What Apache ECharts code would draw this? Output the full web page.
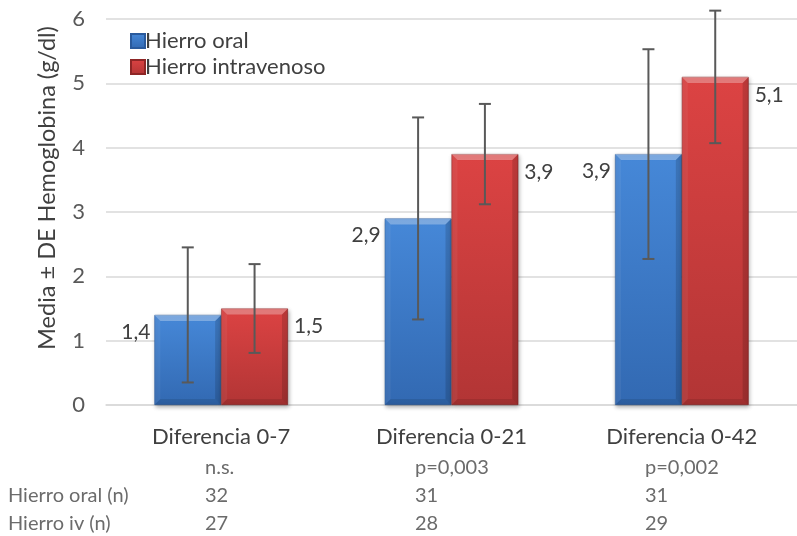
<!DOCTYPE html>
<html>
<head>
<meta charset="utf-8">
<script src="https://cdn.jsdelivr.net/npm/echarts@6/dist/echarts.min.js"></script>
<style>
html, body { margin: 0; padding: 0; background: #fff; }
#chart { width: 797px; height: 536px; }
</style>
</head>
<body>
<div id="chart"></div>
<script>
// Hemoglobin change (mean ± SD, g/dl) by iron route and follow-up interval
const categories = ['Diferencia 0-7', 'Diferencia 0-21', 'Diferencia 0-42'];
const seriesNames = ['Hierro oral', 'Hierro intravenoso'];
const oralMean = [1.4, 2.9, 3.9];
const oralSD = [1.05, 1.57, 1.63];
const ivMean = [1.5, 3.9, 5.1];
const ivSD = [0.69, 0.78, 1.03];
const pValues = ['n.s.', 'p=0,003', 'p=0,002'];
const rowLabels = ['Hierro oral (n)', 'Hierro iv (n)'];
const nOral = [32, 31, 31];
const nIv = [27, 28, 29];
const yTicks = [0, 1, 2, 3, 4, 5, 6];

const FONT = 'Lato, "Open Sans", "Noto Sans", sans-serif';
const BAR_FRAC = 0.29; // each bar's share of the category band

const fmt = v => v.toFixed(1).replace('.', ',');

function gradient(top, bottom) {
  return new echarts.graphic.LinearGradient(0, 0, 0, 1, [
    { offset: 0, color: top },
    { offset: 1, color: bottom }
  ]);
}

const palette = [
  { top: '#4688d8', bottom: '#3269b2', edge: '#2a5a9c' },
  { top: '#dc4343', bottom: '#b23535', edge: '#8e2626' }
];

function barSeries(idx, values) {
  const left = idx === 0;
  return {
    name: seriesNames[idx],
    type: 'bar',
    data: values,
    barWidth: (BAR_FRAC * 100) + '%',
    barGap: '0%',
    itemStyle: {
      color: gradient(palette[idx].top, palette[idx].bottom),
      borderColor: palette[idx].edge,
      borderWidth: 0.6,
      shadowBlur: 4,
      shadowOffsetX: 1,
      shadowOffsetY: 2,
      shadowColor: 'rgba(0,0,0,0.3)'
    },
    label: {
      show: true,
      position: left ? [-4, 17] : ['100%', 18],
      offset: left ? [0, 0] : [6, 0],
      align: left ? 'right' : 'left',
      verticalAlign: 'middle',
      formatter: p => fmt(p.value),
      fontFamily: FONT,
      fontSize: 21,
      color: '#404040'
    },
    z: 2
  };
}

// Bevel highlights plus the ±SD whiskers, laid out on the same band as the bars
function overlaySeries(idx, means, sds) {
  return {
    type: 'custom',
    data: means.map((m, i) => [i, m, sds[i]]),
    z: 4,
    silent: true,
    renderItem(params, api) {
      const c = api.value(0), m = api.value(1), s = api.value(2);
      const band = api.size([1, 0])[0];
      const w = band * BAR_FRAC;
      const base = api.coord([c, 0]);
      const x0 = idx === 0 ? base[0] - w : base[0];
      const x1 = x0 + w;
      const yT = api.coord([c, m])[1];
      const yB = base[1];
      const b = 6;
      const xm = (x0 + x1) / 2;
      const hi = api.coord([c, m + s])[1];
      const lo = api.coord([c, m - s])[1];
      const cap = 6;
      const ink = '#595959';
      return {
        type: 'group',
        children: [
          { type: 'polygon', shape: { points: [[x0, yT], [x1, yT], [x1 - b, yT + b], [x0 + b, yT + b]] },
            style: { fill: 'rgba(255,255,255,0.3)' } },
          { type: 'polygon', shape: { points: [[x0, yT], [x0 + b, yT + b], [x0 + b, yB - b], [x0, yB]] },
            style: { fill: 'rgba(255,255,255,0.06)' } },
          { type: 'polygon', shape: { points: [[x1, yT], [x1 - b, yT + b], [x1 - b, yB - b], [x1, yB]] },
            style: { fill: 'rgba(0,0,0,0.14)' } },
          { type: 'polygon', shape: { points: [[x0, yB], [x0 + b, yB - b], [x1 - b, yB - b], [x1, yB]] },
            style: { fill: 'rgba(0,0,0,0.1)' } },
          { type: 'line', shape: { x1: xm, y1: hi, x2: xm, y2: lo }, style: { stroke: ink, lineWidth: 2 } },
          { type: 'line', shape: { x1: xm - cap, y1: hi, x2: xm + cap, y2: hi }, style: { stroke: ink, lineWidth: 2 } },
          { type: 'line', shape: { x1: xm - cap, y1: lo, x2: xm + cap, y2: lo }, style: { stroke: ink, lineWidth: 2 } }
        ]
      };
    }
  };
}

const chart = echarts.init(document.getElementById('chart'), null, { renderer: 'canvas' });

chart.setOption({
  animation: false,
  backgroundColor: '#ffffff',
  textStyle: { fontFamily: FONT },
  grid: { left: 106, right: -5, top: 19, bottom: 131, containLabel: false },
  legend: {
    data: seriesNames,
    orient: 'vertical',
    left: 125,
    top: 25,
    itemWidth: 14,
    itemHeight: 14,
    itemGap: 4,
    icon: 'rect',
    textStyle: { fontFamily: FONT, fontSize: 22, color: '#404040', padding: [0, 0, 0, -5] }
  },
  xAxis: {
    type: 'category',
    data: categories,
    axisLine: { lineStyle: { color: '#d9d9d9', width: 1.5 } },
    axisTick: { show: false },
    axisLabel: { fontFamily: FONT, fontSize: 22, color: '#404040', margin: 21 }
  },
  yAxis: {
    type: 'value',
    min: yTicks[0],
    max: yTicks[yTicks.length - 1],
    interval: 1,
    name: 'Media ± DE Hemoglobina (g/dl)',
    nameLocation: 'middle',
    nameGap: 47,
    nameTextStyle: { fontFamily: FONT, fontSize: 23.5, color: '#404040', padding: [0, 0, 0, 48] },
    axisLine: { show: false },
    axisTick: { show: false },
    axisLabel: { fontFamily: FONT, fontSize: 22, color: '#595959', margin: 21 },
    splitLine: { lineStyle: { color: '#d9d9d9', width: 1.5 } }
  },
  series: [
    barSeries(0, oralMean),
    barSeries(1, ivMean),
    overlaySeries(0, oralMean, oralSD),
    overlaySeries(1, ivMean, ivSD)
  ]
});

// Significance row and sample-size table beneath the category labels
const colX = [205, 415, 645];
const rowY = [469, 497, 525];
const tableStyle = { fontFamily: FONT, fontSize: 20, fill: '#6b6b6b' };
const tableText = [];
categories.forEach((cat, i) => {
  [pValues[i], String(nOral[i]), String(nIv[i])].forEach((t, r) => {
    tableText.push({
      type: 'text', left: colX[i], top: rowY[r] - 11,
      style: Object.assign({ text: t }, tableStyle)
    });
  });
});
rowLabels.forEach((t, r) => {
  tableText.push({
    type: 'text', left: 8, top: rowY[r + 1] - 11,
    style: Object.assign({ text: t }, tableStyle)
  });
});
chart.setOption({ graphic: tableText });
</script>
</body>
</html>
